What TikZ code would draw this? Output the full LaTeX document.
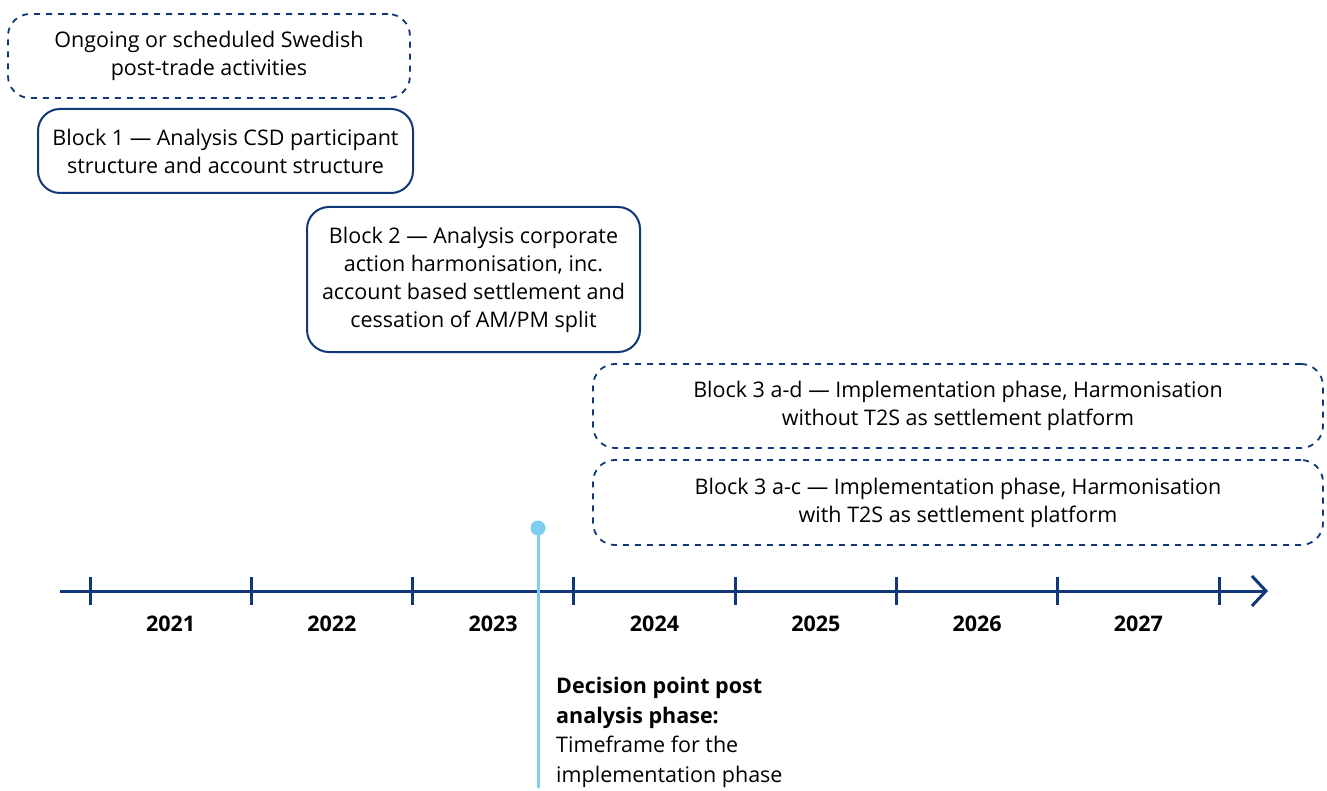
\documentclass[tikz,border=0pt]{standalone}
\usepackage{fontspec}
\setmainfont{Open Sans}
\usetikzlibrary{arrows.meta}
\definecolor{navy}{RGB}{16,56,120}
\definecolor{skyblue}{RGB}{125,205,240}
\tikzset{
	block/.style={draw=navy, line width=2pt, rounded corners=22pt, align=center, inner sep=0pt},
	dashblock/.style={block, line width=1.8pt, dash pattern=on 6pt off 6pt},
	year/.style={font=\fontsize{21.5}{28}\selectfont\bfseries}
}
\begin{document}
\begin{tikzpicture}[x=1pt,y=-1pt,line join=round,font=\fontsize{21.5}{28}\selectfont]
			\useasboundingbox (0,0) rectangle (1327,791);
			% Các khối
			\node [dashblock, minimum width=402pt, minimum height=84pt] (ongoing) at (209,56)
				{Ongoing or scheduled Swedish\\post-trade activities};
			\node [block, minimum width=375pt, minimum height=84pt] (blockone) at (225.5,151)
				{Block 1 --- Analysis CSD participant\\structure and account structure};
			\node [block, minimum width=333pt, minimum height=145pt] (blocktwo) at (473.5,279.5)
				{Block 2 --- Analysis corporate\\action harmonisation, inc.\\account based settlement and\\cessation of AM/PM split};
			\node [dashblock, minimum width=730pt, minimum height=84pt] (blockthreead) at (958,406)
				{Block 3 a-d --- Implementation phase, Harmonisation\\without T2S as settlement platform};
			\node [dashblock, minimum width=730pt, minimum height=85pt] (blockthreeac) at (958,502.5)
				{Block 3 a-c --- Implementation phase, Harmonisation\\with T2S as settlement platform};
			% Trục thời gian
			\coordinate (tlstart) at (60,591);
			\coordinate (tlend) at (1268,591);
			\draw [navy, line width=3pt, -{Straight Barb[length=14pt, width=30pt, line width=3pt]}] (tlstart)--(tlend);
			\foreach \i in {0,...,7}
				\draw [navy, line width=3pt] (90+161.3*\i,577)--(90+161.3*\i,605);
			\foreach \y [count=\i from 0] in {2021,...,2027}
				\node [year] (y\y) at (170.6+161.3*\i,624) {\y};
			% Điểm quyết định
			\coordinate (dend) at (538,787);
			\draw [skyblue, line width=3pt, line cap=round] (538,528)--(dend);
			\node [circle, fill=skyblue, minimum size=15pt, inner sep=0pt] (dpoint) at (538,528) {};
			\node [anchor=north west, align=left, inner sep=0pt, font=\fontsize{21.5}{29.5}\selectfont] (decision) at (556,677)
				{\textbf{Decision point post}\\\textbf{analysis phase:}\\Timeframe for the\\implementation phase};
		\end{tikzpicture}
\end{document}
